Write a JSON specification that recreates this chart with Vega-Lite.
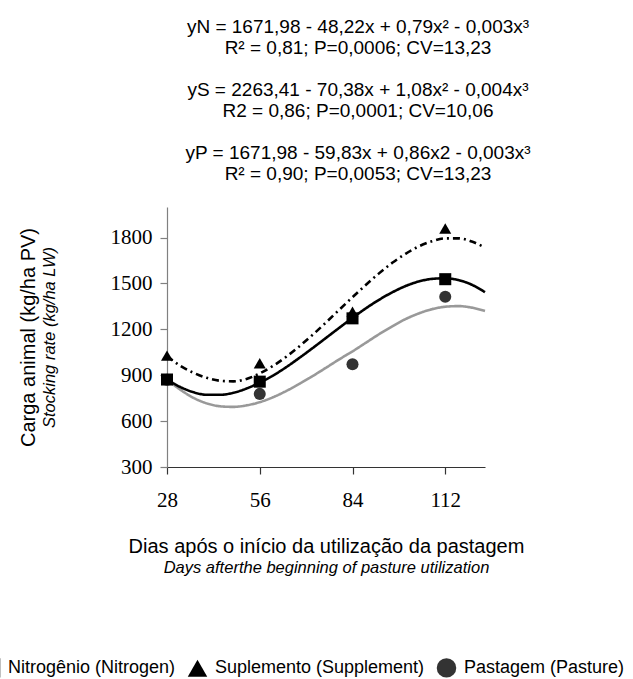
{
  "$schema": "https://vega.github.io/schema/vega-lite/v6.json",
  "width": 318,
  "height": 260,
  "autosize": {"type": "none"},
  "padding": {"left": 167, "top": 207, "right": 148, "bottom": 212},
  "background": "white",
  "config": {"view": {"stroke": null}, "axis": {"grid": false}},
  "title": {
    "text": ["yN = 1671,98 - 48,22x + 0,79x² - 0,003x³", "R² = 0,81; P=0,0006; CV=13,23", "\u200b", "yS = 2263,41 - 70,38x + 1,08x² - 0,004x³", "R2 = 0,86; P=0,0001; CV=10,06", "\u200b", "yP = 1671,98 - 59,83x + 0,86x2 - 0,003x³", "R² = 0,90; P=0,0053; CV=13,23"],
    "anchor": "middle",
    "dx": 32,
    "offset": 23,
    "font": "Liberation Sans",
    "fontSize": 19,
    "fontWeight": "normal",
    "color": "#000000",
    "lineHeight": 21
  },
  "datasets": {
    "curves": [
      {"curva": "P", "dia": 28, "carga": 872},
      {"curva": "P", "dia": 32, "carga": 806},
      {"curva": "P", "dia": 36, "carga": 752},
      {"curva": "P", "dia": 40, "carga": 716},
      {"curva": "P", "dia": 44, "carga": 697},
      {"curva": "P", "dia": 48, "carga": 693},
      {"curva": "P", "dia": 52, "carga": 703},
      {"curva": "P", "dia": 56, "carga": 724},
      {"curva": "P", "dia": 60, "carga": 756},
      {"curva": "P", "dia": 64, "carga": 797},
      {"curva": "P", "dia": 68, "carga": 844},
      {"curva": "P", "dia": 72, "carga": 895},
      {"curva": "P", "dia": 76, "carga": 949},
      {"curva": "P", "dia": 80, "carga": 1004},
      {"curva": "P", "dia": 84, "carga": 1056},
      {"curva": "P", "dia": 88, "carga": 1112},
      {"curva": "P", "dia": 92, "carga": 1168},
      {"curva": "P", "dia": 96, "carga": 1220},
      {"curva": "P", "dia": 100, "carga": 1267},
      {"curva": "P", "dia": 104, "carga": 1304},
      {"curva": "P", "dia": 108, "carga": 1332},
      {"curva": "P", "dia": 112, "carga": 1348},
      {"curva": "P", "dia": 116, "carga": 1352},
      {"curva": "P", "dia": 120, "carga": 1342},
      {"curva": "P", "dia": 124, "carga": 1320},
      {"curva": "N", "dia": 28, "carga": 872},
      {"curva": "N", "dia": 32, "carga": 823},
      {"curva": "N", "dia": 36, "carga": 789},
      {"curva": "N", "dia": 40, "carga": 772},
      {"curva": "N", "dia": 44, "carga": 772},
      {"curva": "N", "dia": 48, "carga": 785},
      {"curva": "N", "dia": 52, "carga": 813},
      {"curva": "N", "dia": 56, "carga": 852},
      {"curva": "N", "dia": 60, "carga": 898},
      {"curva": "N", "dia": 64, "carga": 953},
      {"curva": "N", "dia": 68, "carga": 1014},
      {"curva": "N", "dia": 72, "carga": 1078},
      {"curva": "N", "dia": 76, "carga": 1144},
      {"curva": "N", "dia": 80, "carga": 1210},
      {"curva": "N", "dia": 84, "carga": 1275},
      {"curva": "N", "dia": 88, "carga": 1337},
      {"curva": "N", "dia": 92, "carga": 1393},
      {"curva": "N", "dia": 96, "carga": 1442},
      {"curva": "N", "dia": 100, "carga": 1483},
      {"curva": "N", "dia": 104, "carga": 1513},
      {"curva": "N", "dia": 108, "carga": 1530},
      {"curva": "N", "dia": 112, "carga": 1534},
      {"curva": "N", "dia": 116, "carga": 1522},
      {"curva": "N", "dia": 120, "carga": 1492},
      {"curva": "N", "dia": 124, "carga": 1443},
      {"curva": "S", "dia": 28, "carga": 1025},
      {"curva": "S", "dia": 32, "carga": 962},
      {"curva": "S", "dia": 36, "carga": 916},
      {"curva": "S", "dia": 40, "carga": 883},
      {"curva": "S", "dia": 44, "carga": 864},
      {"curva": "S", "dia": 48, "carga": 860},
      {"curva": "S", "dia": 52, "carga": 876},
      {"curva": "S", "dia": 56, "carga": 912},
      {"curva": "S", "dia": 60, "carga": 961},
      {"curva": "S", "dia": 64, "carga": 1021},
      {"curva": "S", "dia": 68, "carga": 1090},
      {"curva": "S", "dia": 72, "carga": 1165},
      {"curva": "S", "dia": 76, "carga": 1245},
      {"curva": "S", "dia": 80, "carga": 1328},
      {"curva": "S", "dia": 84, "carga": 1410},
      {"curva": "S", "dia": 88, "carga": 1490},
      {"curva": "S", "dia": 92, "carga": 1566},
      {"curva": "S", "dia": 96, "carga": 1635},
      {"curva": "S", "dia": 100, "carga": 1694},
      {"curva": "S", "dia": 104, "carga": 1742},
      {"curva": "S", "dia": 108, "carga": 1776},
      {"curva": "S", "dia": 112, "carga": 1795},
      {"curva": "S", "dia": 116, "carga": 1795},
      {"curva": "S", "dia": 120, "carga": 1774},
      {"curva": "S", "dia": 124, "carga": 1735}
    ],
    "obs": [
      {"serie": "Pastagem (Pasture)", "dia": 28, "carga": 870},
      {"serie": "Pastagem (Pasture)", "dia": 56, "carga": 778},
      {"serie": "Pastagem (Pasture)", "dia": 84, "carga": 972},
      {"serie": "Pastagem (Pasture)", "dia": 112, "carga": 1413},
      {"serie": "Suplemento (Supplement)", "dia": 28, "carga": 1028},
      {"serie": "Suplemento (Supplement)", "dia": 56, "carga": 978},
      {"serie": "Suplemento (Supplement)", "dia": 84, "carga": 1315},
      {"serie": "Suplemento (Supplement)", "dia": 112, "carga": 1859},
      {"serie": "Nitrogênio (Nitrogen)", "dia": 28, "carga": 872},
      {"serie": "Nitrogênio (Nitrogen)", "dia": 56, "carga": 858},
      {"serie": "Nitrogênio (Nitrogen)", "dia": 84, "carga": 1272},
      {"serie": "Nitrogênio (Nitrogen)", "dia": 112, "carga": 1528}
    ]
  },
  "layer": [
    {
      "data": {"name": "curves"},
      "mark": {"type": "line", "strokeWidth": 2.6, "interpolate": "monotone"},
      "encoding": {
        "x": {
          "field": "dia", "type": "quantitative",
          "scale": {"domain": [28, 124], "nice": false, "zero": false},
          "axis": {
            "orient": "bottom",
            "values": [28, 56, 84, 112],
            "format": "d",
            "title": "Dias após o início da utilização da pastagem",
            "titleFont": "Liberation Sans", "titleFontSize": 20, "titleFontWeight": "normal", "titleColor": "#000000",
            "titlePadding": 26,
            "labelFont": "Liberation Serif", "labelFontSize": 21, "labelColor": "#000000", "labelPadding": 15,
            "labelFlush": false,
            "tickSize": 7, "tickColor": "#333333", "domainColor": "#333333", "domainWidth": 1.2, "tickWidth": 1.2
          }
        },
        "y": {
          "field": "carga", "type": "quantitative",
          "scale": {"domain": [300, 2000], "nice": false, "zero": false},
          "axis": {
            "orient": "left",
            "values": [300, 600, 900, 1200, 1500, 1800],
            "format": "d",
            "title": "Stocking rate (kg/ha LW)",
            "titleFont": "Liberation Sans", "titleFontSize": 16.5, "titleFontStyle": "italic", "titleFontWeight": "normal", "titleColor": "#000000",
            "titlePadding": 53,
            "labelFont": "Liberation Serif", "labelFontSize": 21, "labelColor": "#000000", "labelPadding": 8,
            "labelFlush": false,
            "tickSize": 7, "tickColor": "#808080", "domainColor": "#808080", "domainWidth": 1.2, "tickWidth": 1.2
          }
        },
        "stroke": {
          "field": "curva", "type": "nominal",
          "scale": {"domain": ["N", "S", "P"], "range": ["#000000", "#000000", "#999999"]},
          "legend": null
        },
        "strokeDash": {
          "field": "curva", "type": "nominal",
          "scale": {"domain": ["N", "S", "P"], "range": [[1, 0], [7, 4, 2, 4], [1, 0]]},
          "legend": null
        }
      }
    },
    {
      "data": {"name": "obs"},
      "mark": {"type": "point", "filled": true, "opacity": 1, "size": 145},
      "encoding": {
        "x": {
          "field": "dia", "type": "quantitative",
          "axis": {
            "orient": "bottom", "labels": false, "ticks": false, "domain": false,
            "title": "Days afterthe beginning of pasture utilization",
            "titleFont": "Liberation Sans", "titleFontSize": 16.5, "titleFontStyle": "italic", "titleFontWeight": "normal", "titleColor": "#000000",
            "titlePadding": 92
          }
        },
        "y": {
          "field": "carga", "type": "quantitative",
          "axis": {
            "orient": "left", "labels": false, "ticks": false, "domain": false,
            "title": "Carga animal (kg/ha PV)",
            "titleFont": "Liberation Sans", "titleFontSize": 20, "titleFontWeight": "normal", "titleColor": "#000000",
            "titlePadding": 129
          }
        },
        "shape": {
          "field": "serie", "type": "nominal",
          "scale": {"domain": ["Nitrogênio (Nitrogen)", "Suplemento (Supplement)", "Pastagem (Pasture)"], "range": ["square", "triangle-up", "circle"]},
          "legend": {
            "title": null, "orient": "none", "legendX": -187, "legendY": 450, "direction": "horizontal",
            "symbolSize": 380, "symbolFillColor": "#000000",
            "labelFont": "Liberation Sans", "labelFontSize": 18, "labelColor": "#000000", "labelOffset": 7,
            "columnPadding": 11, "labelLimit": 400
          }
        },
        "color": {
          "field": "serie", "type": "nominal",
          "scale": {"domain": ["Nitrogênio (Nitrogen)", "Suplemento (Supplement)", "Pastagem (Pasture)"], "range": ["#000000", "#000000", "#333333"]},
          "legend": {
            "title": null, "orient": "none", "legendX": -187, "legendY": 450, "direction": "horizontal",
            "symbolSize": 380, "symbolFillColor": "#000000",
            "labelFont": "Liberation Sans", "labelFontSize": 18, "labelColor": "#000000", "labelOffset": 7,
            "columnPadding": 11, "labelLimit": 400
          }
        }
      }
    }
  ],
  "resolve": {"axis": {"x": "independent", "y": "independent"}}
}
